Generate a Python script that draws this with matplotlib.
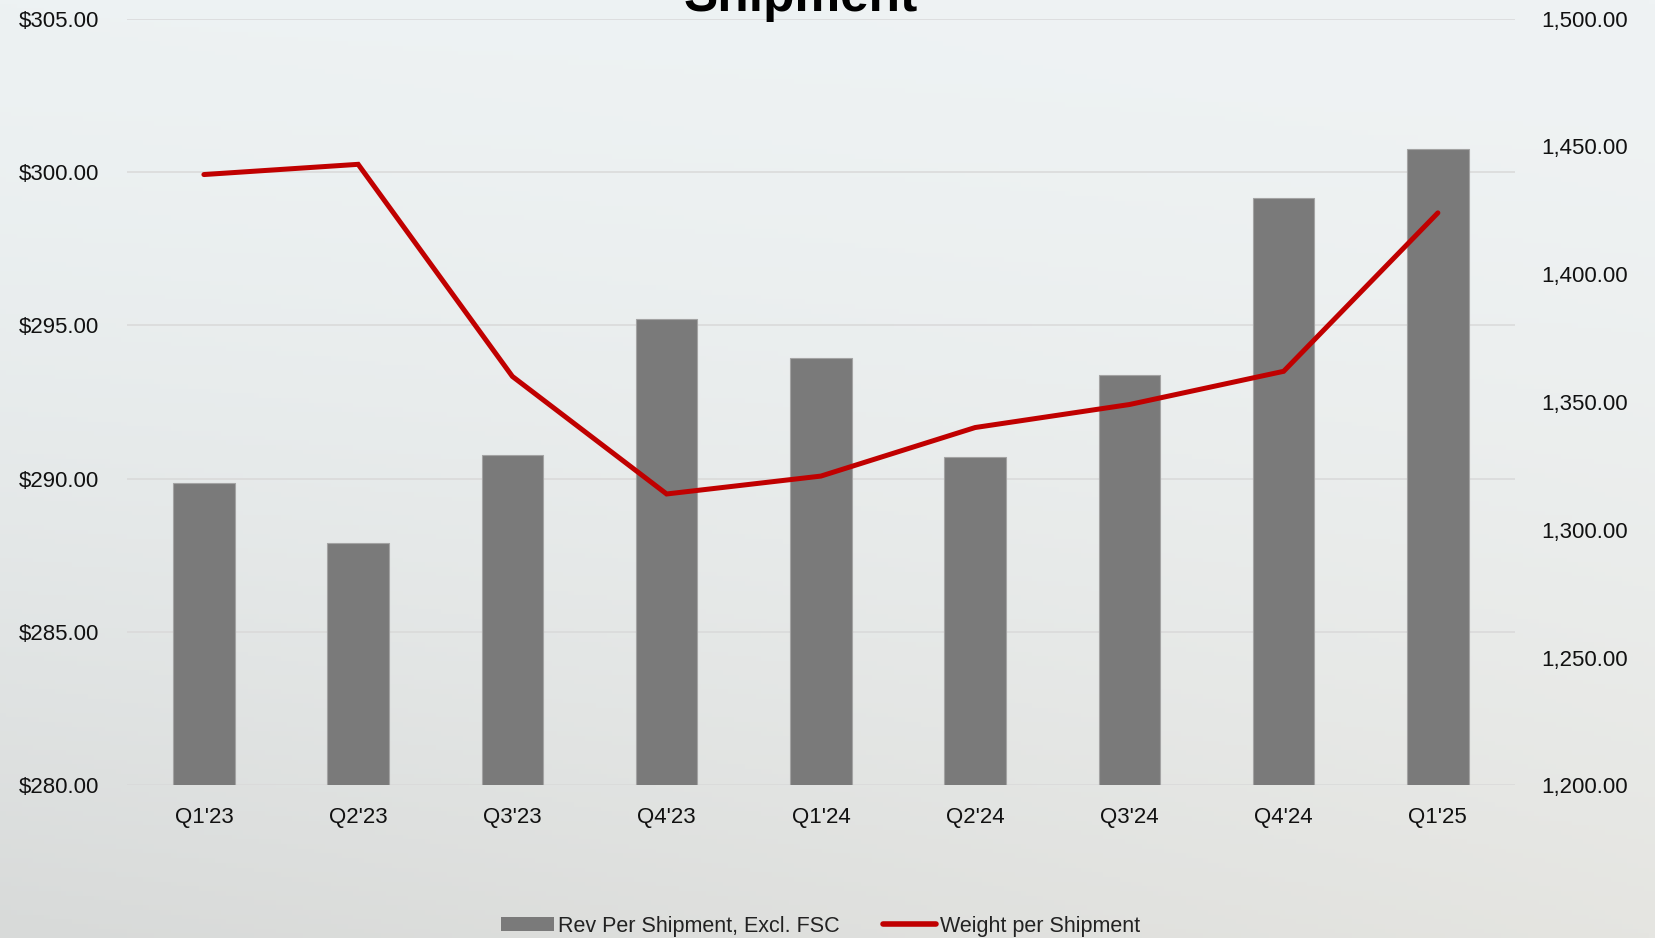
"""Revenue per shipment (bars) against weight per shipment (line), by quarter."""

import matplotlib

matplotlib.use("Agg")

import matplotlib.pyplot as plt
import numpy as np
from matplotlib.lines import Line2D
from matplotlib.patches import Patch
from matplotlib.ticker import FuncFormatter, MultipleLocator


QUARTERS = ["Q1'23", "Q2'23", "Q3'23", "Q4'23", "Q1'24", "Q2'24", "Q3'24", "Q4'24", "Q1'25"]
REV_PER_SHIPMENT = [289.87, 287.90, 290.78, 295.19, 293.94, 290.71, 293.37, 299.16, 300.74]
WEIGHT_PER_SHIPMENT = [1439, 1443, 1360, 1314, 1321, 1340, 1349, 1362, 1424]

REV_LABEL = "Rev Per Shipment, Excl. FSC"
WEIGHT_LABEL = "Weight per Shipment"

BAR_COLOR = "#7a7a7a"
LINE_COLOR = "#c00000"
GRID_COLOR = "#d9d9d9"
TEXT_COLOR = "#111111"

plt.rcParams["font.family"] = ["Liberation Sans", "DejaVu Sans"]


def background_gradient(ax):
    """Soft slide-style backdrop: cool grey at the top, warmer grey at the bottom."""
    top_left = np.array([237, 242, 243]) / 255
    top_right = np.array([239, 243, 244]) / 255
    bottom_left = np.array([216, 218, 217]) / 255
    bottom_right = np.array([229, 229, 225]) / 255
    rows, cols = 200, 300
    v = np.linspace(0, 1, rows)[:, None, None]
    h = np.linspace(0, 1, cols)[None, :, None]
    top = top_left * (1 - h) + top_right * h
    bottom = bottom_left * (1 - h) + bottom_right * h
    img = top * (1 - v**1.5) + bottom * v**1.5
    ax.imshow(img, aspect="auto", extent=(0, 1, 0, 1), origin="upper")
    ax.set_axis_off()


def main():
    fig = plt.figure(figsize=(16.55, 9.38), dpi=100)

    bg = fig.add_axes((0, 0, 1, 1), zorder=-10)
    background_gradient(bg)

    ax = fig.add_axes((0.0766, 0.1628, 0.8388, 0.8173))
    ax.patch.set_visible(False)
    x = np.arange(len(QUARTERS))

    ax.bar(
        x,
        REV_PER_SHIPMENT,
        width=0.40,
        color=BAR_COLOR,
        edgecolor="#a3a3a3",
        linewidth=0.8,
        zorder=3,
    )
    ax.set_ylim(280, 305)
    ax.set_xlim(-0.5, len(QUARTERS) - 0.5)
    ax.yaxis.set_major_locator(MultipleLocator(5))
    ax.yaxis.set_major_formatter(FuncFormatter(lambda v, _p: f"${v:,.2f}"))
    ax.grid(axis="y", color=GRID_COLOR, linewidth=1.1, zorder=0)
    ax.set_axisbelow(True)
    ax.set_xticks(x)
    ax.set_xticklabels(QUARTERS)
    ax.tick_params(axis="y", length=0, pad=20, labelsize=16, labelcolor=TEXT_COLOR)
    ax.tick_params(axis="x", length=0, pad=15.5, labelsize=16, labelcolor=TEXT_COLOR)
    for spine in ax.spines.values():
        spine.set_visible(False)

    ax2 = ax.twinx()
    ax2.plot(
        x,
        WEIGHT_PER_SHIPMENT,
        color=LINE_COLOR,
        linewidth=3.6,
        solid_capstyle="round",
        solid_joinstyle="miter",
        zorder=4,
    )
    ax2.set_ylim(1200, 1500)
    ax2.yaxis.set_major_locator(MultipleLocator(50))
    ax2.yaxis.set_major_formatter(FuncFormatter(lambda v, _p: f"{v:,.2f}"))
    ax2.tick_params(axis="y", length=0, pad=19, labelsize=16, labelcolor=TEXT_COLOR)
    for spine in ax2.spines.values():
        spine.set_visible(False)

    # Title sits mostly above the canvas; only the lower part of its last line shows.
    fig.text(
        0.484,
        1 - 11 / 938,
        "Shipment",
        ha="center",
        va="baseline",
        fontsize=37,
        fontweight="bold",
        color="black",
    )

    handles = [
        Patch(facecolor=BAR_COLOR, edgecolor="none", label=REV_LABEL),
        Line2D([0], [0], color=LINE_COLOR, linewidth=4, solid_capstyle="round", label=WEIGHT_LABEL),
    ]
    fig.legend(
        handles=handles,
        loc="center",
        bbox_to_anchor=(0.496, 0.0125),
        ncol=2,
        frameon=False,
        handlelength=2.45,
        handleheight=0.65,
        handletextpad=0.2,
        columnspacing=2.0,
        prop={"size": 15.5},
        labelcolor="#222222",
    )

    fig.savefig("out.png", dpi=100)
    plt.close(fig)


if __name__ == "__main__":
    main()
